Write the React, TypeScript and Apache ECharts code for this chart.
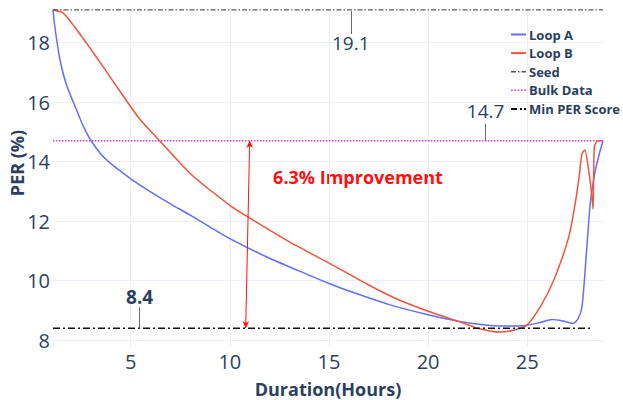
import React, { useEffect, useRef } from "react";
import * as echarts from "echarts";

// Loop A (blue)
const loopAX = [1.08, 1.16, 1.41, 1.75, 2.26, 2.6, 3.0, 3.5, 4.0, 4.44, 5, 6, 7, 8, 9, 10, 12, 14, 15, 16, 18, 20, 21.6, 23, 24, 25, 25.7, 26.25, 26.8, 27.3, 27.55, 27.76, 27.98, 28.18, 28.43, 28.65, 28.82];
const loopAY = [19.1, 18.6, 17.5, 16.6, 15.75, 15.2, 14.7, 14.25, 13.93, 13.7, 13.42, 12.98, 12.58, 12.2, 11.8, 11.41, 10.75, 10.18, 9.9, 9.65, 9.2, 8.85, 8.62, 8.5, 8.47, 8.5, 8.6, 8.69, 8.64, 8.56, 8.7, 9.12, 10.9, 12.6, 13.7, 14.3, 14.7];
// Loop B (red)
const loopBX = [1.08, 1.58, 2.2, 2.93, 3.7, 4.44, 5.45, 6.46, 8, 10, 10.93, 13, 15.05, 17, 18.42, 20, 21.6, 22.5, 23.64, 24.3, 24.98, 25.66, 26.33, 27.09, 27.42, 27.62, 27.76, 27.9, 28.1, 28.25, 28.32, 28.38, 28.52, 28.82];
const loopBY = [19.1, 19.0, 18.5, 17.83, 17.1, 16.38, 15.43, 14.7, 13.6, 12.53, 12.13, 11.3, 10.57, 9.85, 9.38, 8.97, 8.61, 8.4, 8.27, 8.33, 8.5, 9.12, 10.0, 11.46, 12.6, 13.5, 14.26, 14.39, 13.7, 12.9, 12.41, 14.48, 14.68, 14.7];

const seedValue = 19.1;
const bulkValue = 14.7;
const minPerValue = 8.4;
const xStart = 1.08;
const xEnd = 28.82;
const minPerEnd = 28.3;

const xTicks = [5, 10, 15, 20, 25];
const yTicks = [8, 10, 12, 14, 16, 18];

const FONT = '"Open Sans", sans-serif';
const INK = "#2a3f5f";

const ICON_SOLID = "path://M0,0h15v2h-15z";
const ICON_SEED = "path://M0,0h5v1.4h-5zM7,0h1.5v1.4h-1.5zM10.5,0h4.5v1.4h-4.5z";
const ICON_BULK = "path://M0,0h1.5v1.4h-1.5zM3,0h1.5v1.4h-1.5zM6,0h1.5v1.4h-1.5zM9,0h1.5v1.4h-1.5zM12,0h1.5v1.4h-1.5z";
const ICON_MIN = "path://M0,0h6v2h-6zM9,0h2v2h-2zM13,0h2v2h-2z";

export default function App() {
  const ref = useRef<HTMLDivElement>(null);
  useEffect(() => {
    document.body.style.margin = "0";
    if (!ref.current) return;
    const chart = echarts.init(ref.current, null, { renderer: "svg" });
    const zip = (xs: number[], ys: number[]) => xs.map((x, i) => [x, ys[i]]);
    const ann = (x: number, y1: number, y2: number, text: string, bold: boolean, dist: number) => [
      { coord: [x, y1], symbol: "none" },
      {
        coord: [x, y2],
        symbol: "none",
        lineStyle: { color: "#444", width: 0.8, type: "solid" },
        label: {
          show: true,
          position: "end",
          distance: dist,
          formatter: text,
          fontSize: 19,
          fontWeight: bold ? "bold" : "normal",
          color: INK,
          fontFamily: FONT,
        },
      },
    ];
    chart.setOption({
      animation: false,
      textStyle: { fontFamily: FONT },
      grid: { left: 53, right: 20, top: 9, bottom: 54 },
      xAxis: {
        type: "value",
        min: xStart,
        max: xEnd,
        axisLine: { show: false },
        axisTick: { show: false, customValues: xTicks },
        axisLabel: { customValues: xTicks, fontSize: 20, color: INK, margin: 5 },
        splitLine: { show: true, lineStyle: { color: "#ebf0f8", width: 1 } },
      },
      yAxis: {
        type: "value",
        min: 7.8,
        max: 19.13,
        axisLine: { show: false },
        axisTick: { show: false, customValues: yTicks },
        axisLabel: { customValues: yTicks, fontSize: 20, color: INK, margin: 3 },
        splitLine: { show: true, lineStyle: { color: "#ebf0f8", width: 1 } },
      },
      legend: {
        orient: "vertical",
        left: 511,
        top: 28,
        itemWidth: 15,
        itemHeight: 2,
        itemGap: 5.6,
        padding: 0,
        textStyle: { fontSize: 13, fontWeight: "bold", color: INK, fontFamily: FONT, padding: [0, 0, 0, -2] },
        data: [
          { name: "Loop A", icon: ICON_SOLID },
          { name: "Loop B", icon: ICON_SOLID },
          { name: "Seed", icon: ICON_SEED },
          { name: "Bulk Data", icon: ICON_BULK },
          { name: "Min PER Score", icon: ICON_MIN },
        ],
      },
      graphic: [
        {
          type: "text",
          x: 358,
          y: 177,
          style: {
            text: "6.3% Improvement",
            fill: "#ff1010",
            font: `bold 18px ${FONT}`,
            textAlign: "center",
            textVerticalAlign: "middle",
          },
        },
        {
          type: "text",
          x: 328,
          y: 389,
          style: {
            text: "Duration(Hours)",
            fill: INK,
            font: `bold 18px ${FONT}`,
            textAlign: "center",
            textVerticalAlign: "middle",
          },
        },
        {
          type: "text",
          x: 17,
          y: 163,
          rotation: Math.PI / 2,
          style: {
            text: "PER (%)",
            fill: INK,
            font: `bold 18px ${FONT}`,
            textAlign: "center",
            textVerticalAlign: "middle",
          },
        },
      ],
      series: [
        {
          name: "Loop A",
          type: "line",
          data: zip(loopAX, loopAY),
          showSymbol: false,
          symbol: "none",
          smooth: 0.25,
          lineStyle: { color: "#636efa", width: 1.5 },
          itemStyle: { color: "#636efa" },
          z: 3,
        },
        {
          name: "Loop B",
          type: "line",
          data: zip(loopBX, loopBY),
          showSymbol: false,
          symbol: "none",
          smooth: 0.25,
          lineStyle: { color: "#ef553b", width: 1.5 },
          itemStyle: { color: "#ef553b" },
          z: 3,
          markLine: {
            silent: true,
            animation: false,
            data: [
              [
                { coord: [11.0, bulkValue], symbol: "arrow", symbolSize: [5, 7] },
                {
                  coord: [10.8, minPerValue],
                  symbol: "arrow",
                  symbolSize: [5, 7],
                  lineStyle: { color: "#ff1010", width: 1, type: "solid" },
                  label: { show: false },
                },
              ],
            ],
          },
        },
        {
          name: "Seed",
          type: "line",
          data: [[xStart, seedValue], [xEnd, seedValue]],
          showSymbol: false,
          symbol: "none",
          lineStyle: { color: "#333", width: 1, type: [5, 2, 1.5, 2] },
          itemStyle: { color: "#555" },
          markLine: {
            silent: true,
            animation: false,
            data: [ann(16.1, 19.06, 18.29, "19.1", false, 0)],
          },
        },
        {
          name: "Bulk Data",
          type: "line",
          data: [[xStart, bulkValue], [xEnd, bulkValue]],
          showSymbol: false,
          symbol: "none",
          lineStyle: { color: "#e040e0", width: 1.3, type: [1.5, 1.5] },
          itemStyle: { color: "#e040e0" },
          markLine: {
            silent: true,
            animation: false,
            data: [ann(22.9, bulkValue, 15.27, "14.7", false, 3)],
          },
        },
        {
          name: "Min PER Score",
          type: "line",
          data: [[xStart, minPerValue], [minPerEnd, minPerValue]],
          showSymbol: false,
          symbol: "none",
          lineStyle: { color: "#111", width: 1.5, type: [7, 3, 2, 3] },
          itemStyle: { color: "#111" },
          markLine: {
            silent: true,
            animation: false,
            data: [ann(5.45, minPerValue, 9.1, "8.4", true, 1)],
          },
        },
      ],
    });
    return () => chart.dispose();
  }, []);
  return <div ref={ref} style={{ width: 623, height: 400 }} />;
}
